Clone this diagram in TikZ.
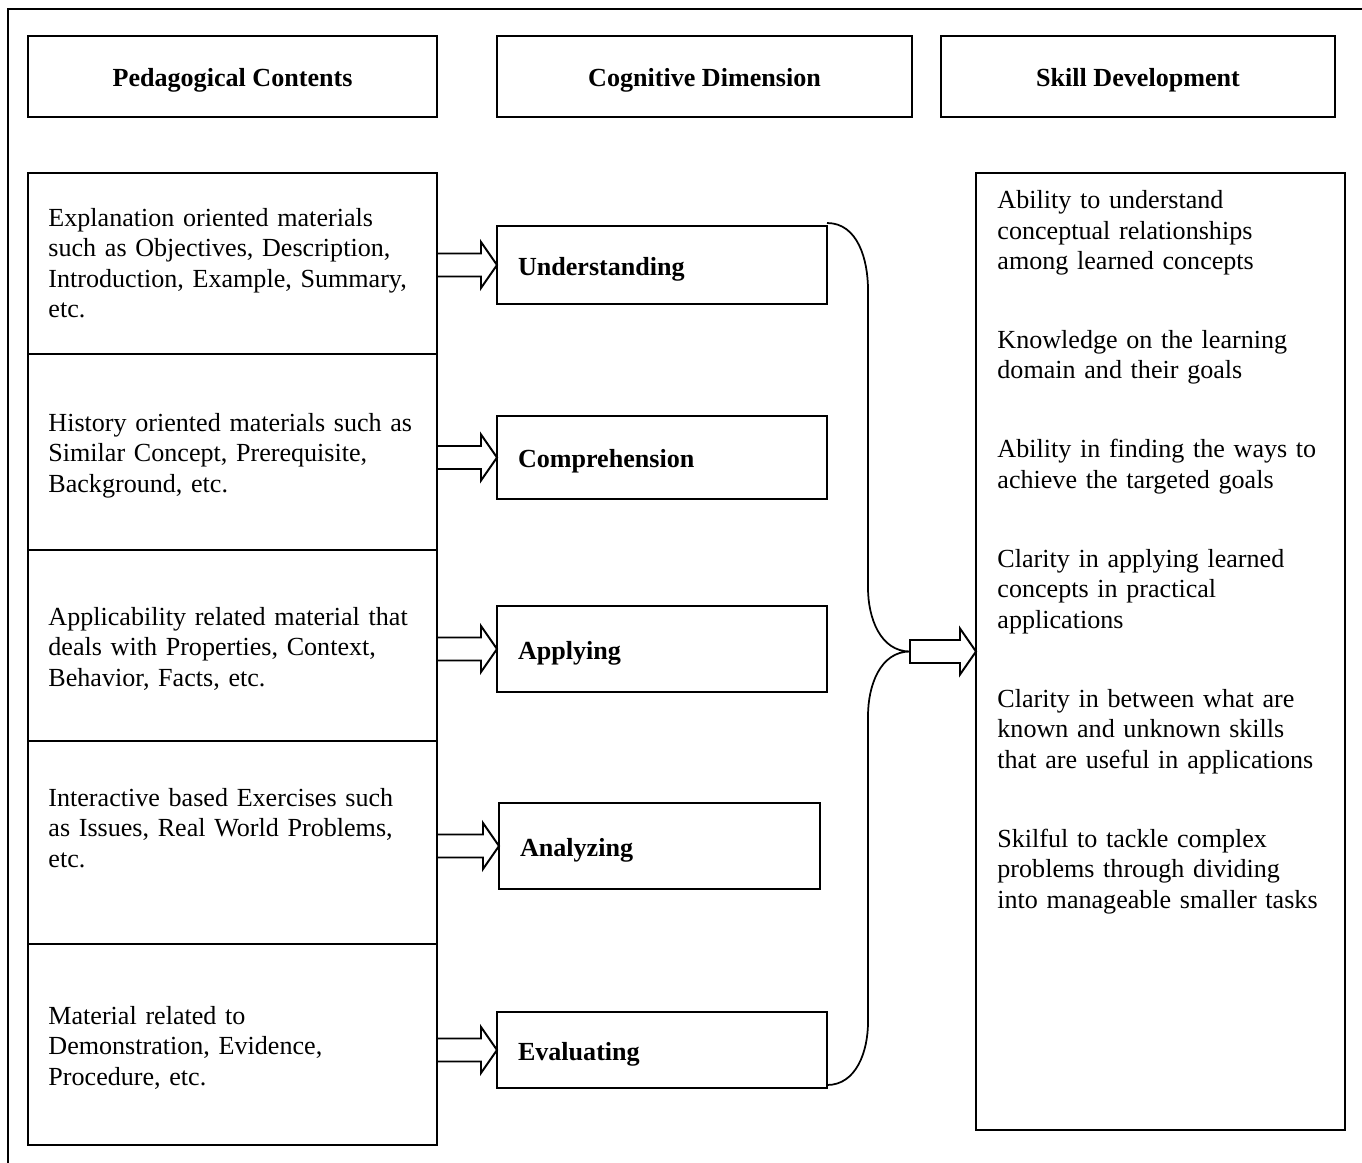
\documentclass[tikz,border=0pt]{standalone}
\usepackage{fontspec}
\setmainfont{Liberation Serif}
\usetikzlibrary{positioning,calc}

\newlength\pxu
\setlength\pxu{0.46pt}

\tikzset{
	box/.style={draw, line width=0.9pt, outer sep=0pt, inner sep=0pt, anchor=north west},
	head/.style={box, font=\fontsize{12pt}{14.03pt}\selectfont\bfseries, minimum height=81\pxu, text height=9.2pt, text depth=0pt},
	cell/.style={box, minimum width=409\pxu},
	level/.style={box, font=\fontsize{12pt}{14.03pt}\selectfont\bfseries, align=left, inner xsep=21\pxu, text height=9.2pt, text depth=0pt},
	txt/.style={inner sep=0pt, align=left, anchor=base west, font=\fontsize{12pt}{14.03pt}\selectfont},
	fat/.style={draw, line width=0.9pt, fill=white, line join=miter},
	brace/.style={line width=0.8pt},
}

\newcommand{\fatarrow}[2]{%
	\draw[fat] ($(#1)+(0,-11.5)$) -- ($(#2)+(-16,-11.5)$) -- ($(#2)+(-16,-23)$) -- (#2)
		-- ($(#2)+(-16,23)$) -- ($(#2)+(-16,11.5)$) -- ($(#1)+(0,11.5)$) -- cycle;}

\begin{document}
\begin{tikzpicture}[x=0.46pt, y=-0.46pt]
	\useasboundingbox (0,0) rectangle (1362,1163);
	\draw[line width=0.9pt] (8,1163) -- (8,9) -- (1362,9);

	\node[head, minimum width=409\pxu] (ped) at (28,36) {Pedagogical Contents};
	\node[head, minimum width=415\pxu] (cog) at (497,36) {Cognitive Dimension};
	\node[head, minimum width=394\pxu] (skl) at (941,36) {Skill Development};

	\node[cell, minimum height=181\pxu] (c1) at (28,173) {};
	\node[cell, minimum height=196\pxu, below=0pt of c1] (c2) {};
	\node[cell, minimum height=191\pxu, below=0pt of c2] (c3) {};
	\node[cell, minimum height=203\pxu, below=0pt of c3] (c4) {};
	\node[cell, minimum height=201\pxu, below=0pt of c4] (c5) {};

	\node[txt, text width=385\pxu] (t1) at (48,226) {Explanation oriented materials\\such as Objectives, Description,\\Introduction, Example, Summary,\\etc.};
	\node[txt, text width=385\pxu] (t2) at (48,431) {History oriented materials such as\\Similar Concept, Prerequisite,\\Background, etc.};
	\node[txt, text width=385\pxu] (t3) at (48,625) {Applicability related material that\\deals with Properties, Context,\\Behavior, Facts, etc.};
	\node[txt, text width=385\pxu] (t4) at (48,806) {Interactive based Exercises such\\as Issues, Real World Problems,\\etc.};
	\node[txt, text width=385\pxu] (t5) at (48,1024) {Material related to\\Demonstration, Evidence,\\Procedure, etc.};

	\node[level, text width=288\pxu, minimum height=78\pxu] (und) at (497,226) {Understanding};
	\node[level, text width=288\pxu, minimum height=83\pxu] (com) at (497,416) {Comprehension};
	\node[level, text width=288\pxu, minimum height=86\pxu] (app) at (497,606) {Applying};
	\node[level, text width=279\pxu, minimum height=86\pxu] (ana) at (499,803) {Analyzing};
	\node[level, text width=288\pxu, minimum height=76\pxu] (eva) at (497,1012) {Evaluating};

	\node[box, minimum width=369\pxu, minimum height=957\pxu] (skills) at (976,173) {};
	\node[txt, text width=345\pxu] (sk) at (997,208.5) {Ability to understand\\conceptual relationships\\among learned concepts\\[22.3pt]%
		Knowledge on the learning\\domain and their goals\\[22.3pt]%
		Ability in finding the ways to\\achieve the targeted goals\\[22.3pt]%
		Clarity in applying learned\\concepts in practical\\applications\\[22.3pt]%
		Clarity in between what are\\known and unknown skills\\that are useful in applications\\[22.3pt]%
		Skilful to tackle complex\\problems through dividing\\into manageable smaller tasks};

	\coordinate (join) at (910,651.5);

	\fatarrow{c1.east |- und.west}{und.west}
	\fatarrow{c2.east |- com.west}{com.west}
	\fatarrow{c3.east |- app.west}{app.west}
	\fatarrow{c4.east |- ana.west}{ana.west}
	\fatarrow{c5.east |- eva.west}{eva.west}

	\draw[brace] ($(und.north east)+(0,-3)$) to[out=0,in=90] (868,290) -- (868,588) to[out=-90,in=180] (join)
		to[out=180,in=90] (868,716) -- (868,1022) to[out=-90,in=0] ($(eva.south east)+(0,-3)$);
	\fatarrow{join}{skills.west}
\end{tikzpicture}
\end{document}
